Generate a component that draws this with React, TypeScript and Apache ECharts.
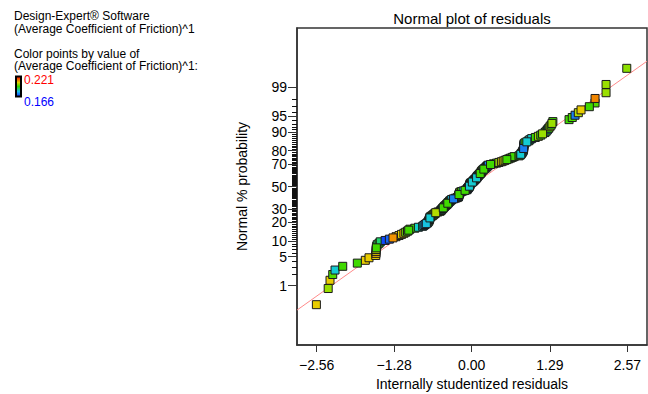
import React, { useEffect, useRef } from "react";
import * as echarts from "echarts";

// Internally studentized residuals, sorted ascending
const residuals = [
  -2.565, -2.37, -2.34, -2.295, -2.257, -2.13, -1.889, -1.757, -1.696, -1.585,
  -1.58, -1.58, -1.58, -1.575, -1.57, -1.56, -1.53, -1.51, -1.43, -1.36,
  -1.3, -1.25, -1.2, -1.16, -1.12, -1.09, -1.06, -1.04, -1.02, -0.94,
  -0.88, -0.81, -0.79, -0.77, -0.75, -0.73, -0.72, -0.71, -0.705, -0.7,
  -0.695, -0.69, -0.689, -0.67, -0.65, -0.635, -0.62, -0.605, -0.594, -0.56,
  -0.523, -0.51, -0.5, -0.49, -0.48, -0.47, -0.46, -0.45, -0.44, -0.425,
  -0.413, -0.405, -0.395, -0.385, -0.375, -0.365, -0.355, -0.34, -0.33, -0.3,
  -0.27, -0.24, -0.221, -0.218, -0.215, -0.212, -0.21, -0.205, -0.2, -0.197,
  -0.193, -0.17, -0.14, -0.11, -0.083, -0.075, -0.068, -0.06, -0.052, -0.045,
  -0.038, -0.034, -0.031, -0.029, -0.028, -0.02, -0.005, 0.01, 0.02, 0.03,
  0.04, 0.05, 0.06, 0.07, 0.08, 0.085, 0.092, 0.1, 0.11, 0.12,
  0.13, 0.14, 0.15, 0.155, 0.16, 0.17, 0.175, 0.19, 0.2, 0.215,
  0.23, 0.24, 0.25, 0.26, 0.274, 0.31, 0.36, 0.41, 0.45, 0.49,
  0.52, 0.55, 0.58, 0.61, 0.64, 0.67, 0.7, 0.78, 0.8, 0.81,
  0.82, 0.83, 0.84, 0.845, 0.852, 0.855, 0.857, 0.858, 0.86, 0.861,
  0.862, 0.864, 0.88, 0.91, 0.94, 0.96, 0.99, 1.05, 1.1, 1.14,
  1.17, 1.21, 1.23, 1.25, 1.27, 1.29, 1.31, 1.325, 1.34, 1.607,
  1.66, 1.706, 1.76, 1.805, 1.942, 2.036, 2.036, 2.218, 2.218, 2.56,
];

// (Average Coefficient of Friction)^1 value of each run, used for the colour
const frictionValues = [
  0.205, 0.198, 0.205, 0.192, 0.18, 0.19, 0.19, 0.205, 0.205, 0.205,
  0.208, 0.205, 0.2, 0.19, 0.192, 0.185, 0.19, 0.185, 0.168, 0.17,
  0.212, 0.208, 0.205, 0.204, 0.205, 0.195, 0.192, 0.19, 0.192, 0.19,
  0.182, 0.18, 0.178, 0.172, 0.178, 0.178, 0.18, 0.19, 0.18, 0.19,
  0.18, 0.18, 0.185, 0.19, 0.2, 0.192, 0.198, 0.19, 0.2, 0.19,
  0.19, 0.192, 0.18, 0.19, 0.182, 0.19, 0.19, 0.18, 0.19, 0.19,
  0.19, 0.18, 0.19, 0.18, 0.172, 0.178, 0.19, 0.18, 0.178, 0.172,
  0.17, 0.19, 0.17, 0.18, 0.19, 0.198, 0.19, 0.18, 0.19, 0.192,
  0.198, 0.19, 0.18, 0.19, 0.19, 0.18, 0.17, 0.19, 0.168, 0.19,
  0.18, 0.19, 0.18, 0.19, 0.182, 0.18, 0.19, 0.18, 0.172, 0.19,
  0.18, 0.17, 0.178, 0.19, 0.18, 0.19, 0.17, 0.17, 0.18, 0.19,
  0.192, 0.19, 0.18, 0.19, 0.198, 0.19, 0.19, 0.18, 0.19, 0.172,
  0.18, 0.172, 0.19, 0.18, 0.172, 0.19, 0.192, 0.19, 0.198, 0.203,
  0.204, 0.2, 0.19, 0.192, 0.19, 0.19, 0.19, 0.192, 0.19, 0.18,
  0.19, 0.19, 0.18, 0.18, 0.178, 0.19, 0.172, 0.18, 0.172, 0.18,
  0.172, 0.18, 0.19, 0.18, 0.19, 0.18, 0.18, 0.19, 0.198, 0.19,
  0.198, 0.18, 0.19, 0.178, 0.19, 0.2, 0.19, 0.198, 0.19, 0.19,
  0.192, 0.172, 0.2, 0.205, 0.19, 0.192, 0.213, 0.198, 0.198, 0.197,
];

const colorMin = 0.166;
const colorMax = 0.221;

const probLabels = [1, 5, 10, 20, 30, 50, 70, 80, 90, 95, 99];
const xTickValues = [-2.56, -1.28, 0.0, 1.29, 2.57];
const xRange = [-2.885, 2.894];
const probRange = [0.01, 99.99];
const refLineX = [-2.885, 2.894];
const refLineZ = [-2.9, 2.94];

const FONT = "'Liberation Sans', Arial, Helvetica, sans-serif";

// inverse standard normal CDF (probability scale of the axis)
function invNorm(p: number): number {
  const a = [-3.969683028665376e1, 2.209460984245205e2, -2.759285104469687e2, 1.38357751867269e2, -3.066479806614716e1, 2.506628277459239];
  const b = [-5.447609879822406e1, 1.615858368580409e2, -1.556989798598866e2, 6.680131188771972e1, -1.328068155288572e1];
  const c = [-7.784894002430293e-3, -3.223964580411365e-1, -2.400758277161838, -2.549671348283685, 4.374664141464968, 2.938163982698783];
  const d = [7.784695709041462e-3, 3.224671290700398e-1, 2.445134137142996, 3.754408661907416];
  const plow = 0.02425;
  if (p < plow) {
    const q = Math.sqrt(-2 * Math.log(p));
    return (((((c[0] * q + c[1]) * q + c[2]) * q + c[3]) * q + c[4]) * q + c[5]) /
      ((((d[0] * q + d[1]) * q + d[2]) * q + d[3]) * q + 1);
  }
  if (p <= 1 - plow) {
    const q = p - 0.5;
    const r = q * q;
    return ((((((a[0] * r + a[1]) * r + a[2]) * r + a[3]) * r + a[4]) * r + a[5]) * q) /
      (((((b[0] * r + b[1]) * r + b[2]) * r + b[3]) * r + b[4]) * r + 1);
  }
  const q = Math.sqrt(-2 * Math.log(1 - p));
  return -(((((c[0] * q + c[1]) * q + c[2]) * q + c[3]) * q + c[4]) * q + c[5]) /
    ((((d[0] * q + d[1]) * q + d[2]) * q + d[3]) * q + 1);
}

export default function App() {
  const ref = useRef<HTMLDivElement>(null);
  useEffect(() => {
    if (!ref.current) return;
    const chart = echarts.init(ref.current, undefined, { renderer: "svg" });
    const n = residuals.length;
    const ranked = residuals.map((r, i) => [r, invNorm((i + 0.5) / n), frictionValues[i]]);
    // draw order interleaved (like a run order), so that overlapping squares show their colours
    const points: number[][] = [];
    const stride = 7;
    for (let s = 0; s < stride; s++) {
      for (let i = s; i < n; i += stride) points.push(ranked[i]);
    }
    const labelZ = probLabels.map((p) => invNorm(p / 100));
    const minorP: number[] = [];
    for (let p = 1; p <= 99; p++) {
      if (probLabels.indexOf(p) < 0) minorP.push(p);
    }
    const yMin = invNorm(probRange[0] / 100);
    const yMax = invNorm(probRange[1] / 100);
    const axisColor = "#333";

    const baseGraphic: any[] = [
      { type: "text", x: 472, y: 18, style: { text: "Normal plot of residuals", fill: "#000", font: `15px ${FONT}`, textAlign: "center", textVerticalAlign: "middle" } },
      { type: "text", x: 14, y: 16, style: { text: "Design-Expert\u00AE Software", fill: "#000", font: `12px ${FONT}`, textVerticalAlign: "middle" } },
      { type: "text", x: 14, y: 28.5, style: { text: "(Average Coefficient of Friction)^1", fill: "#000", font: `12px ${FONT}`, textVerticalAlign: "middle" } },
      { type: "text", x: 14, y: 53.5, style: { text: "Color points by value of", fill: "#000", font: `12px ${FONT}`, textVerticalAlign: "middle" } },
      { type: "text", x: 14, y: 66, style: { text: "(Average Coefficient of Friction)^1:", fill: "#000", font: `12px ${FONT}`, textVerticalAlign: "middle" } },
      {
        type: "rect",
        shape: { x: 16, y: 76.5, width: 5, height: 20 },
        style: {
          stroke: "#000",
          lineWidth: 2,
          fill: new echarts.graphic.LinearGradient(0, 0, 0, 1, [
            { offset: 0, color: "#ff0000" },
            { offset: 0.3, color: "#e0d000" },
            { offset: 0.5, color: "#30d800" },
            { offset: 0.75, color: "#18c0e8" },
            { offset: 1, color: "#1030ff" },
          ]),
        },
      },
      { type: "text", x: 24, y: 80, style: { text: "0.221", fill: "#ff0000", font: `12px ${FONT}`, textVerticalAlign: "middle" } },
      { type: "text", x: 24, y: 102, style: { text: "0.166", fill: "#0000ff", font: `12px ${FONT}`, textVerticalAlign: "middle" } },
    ];

    chart.setOption({
      animation: false,
      textStyle: { fontFamily: FONT },
      grid: { left: 297, right: 1, top: 28, bottom: 49, show: true, borderColor: axisColor, borderWidth: 1.5, outerBoundsMode: "none" },
      visualMap: {
        show: false,
        type: "continuous",
        dimension: 2,
        seriesIndex: 1,
        min: colorMin,
        max: colorMax,
        inRange: {
          color: ["#0a30ff", "#1a78f0", "#18c0e8", "#10d4c0", "#30d800", "#5cdc00", "#a8e000", "#e8d000", "#f0a800", "#f06800", "#ff0000"],
        },
      },
      xAxis: {
        type: "value",
        min: xRange[0],
        max: xRange[1],
        name: "Internally studentized residuals",
        nameLocation: "middle",
        nameGap: 32,
        nameTextStyle: { fontSize: 14, color: "#000", fontFamily: FONT },
        axisLine: { show: true, onZero: false, lineStyle: { color: axisColor, width: 1.5 } },
        axisTick: { show: true, length: 7, customValues: xTickValues, lineStyle: { color: axisColor, width: 1 } },
        axisLabel: {
          customValues: xTickValues,
          fontSize: 14,
          color: "#000",
          margin: 13,
          fontFamily: FONT,
          formatter: (v: number) => v.toFixed(2).replace("-", "\u2212"),
        },
        splitLine: { show: false },
      },
      yAxis: {
        type: "value",
        min: yMin,
        max: yMax,
        name: "Normal % probability",
        nameLocation: "middle",
        nameGap: 48,
        nameTextStyle: { fontSize: 14, color: "#000", fontFamily: FONT },
        axisLine: { show: true, onZero: false, lineStyle: { color: axisColor, width: 1.5 } },
        axisTick: { show: true, length: 9, customValues: labelZ, lineStyle: { color: axisColor, width: 1 } },
        axisLabel: {
          customValues: labelZ,
          fontSize: 14,
          lineHeight: 12,
          color: "#000",
          margin: 10,
          fontFamily: FONT,
          formatter: (v: number) => {
            let best = probLabels[0];
            let bd = Infinity;
            probLabels.forEach((p, k) => {
              const dd = Math.abs(labelZ[k] - v);
              if (dd < bd) { bd = dd; best = p; }
            });
            return String(best);
          },
        },
        splitLine: { show: false },
      },
      series: [
        {
          type: "line",
          data: [[refLineX[0], refLineZ[0]], [refLineX[1], refLineZ[1]]],
          symbol: "none",
          silent: true,
          lineStyle: { color: "#ff8a8a", width: 1 },
          z: 1,
        },
        {
          type: "scatter",
          data: points,
          symbol: "rect",
          symbolSize: 8,
          itemStyle: { borderColor: "#1a1a1a", borderWidth: 1, opacity: 1 },
          z: 2,
        },
      ],
      graphic: baseGraphic,
    });

    // minor ticks of the probability axis (every 1 %), placed through the axis scale
    const minorTicks = minorP.map((p) => {
      const pt = chart.convertToPixel({ gridIndex: 0 }, [xRange[0], invNorm(p / 100)]) as number[];
      const y = Math.round(pt[1]) + 0.5;
      return {
        type: "line",
        silent: true,
        z: 10,
        shape: { x1: Math.round(pt[0]) - 5, y1: y, x2: Math.round(pt[0]), y2: y },
        style: { stroke: "#111", lineWidth: 1 },
      };
    });
    chart.setOption({ graphic: [...baseGraphic, ...minorTicks] });

    return () => chart.dispose();
  }, []);
  return <div ref={ref} style={{ position: "fixed", left: 0, top: 0, width: 648, height: 394, background: "#fff" }} />;
}
